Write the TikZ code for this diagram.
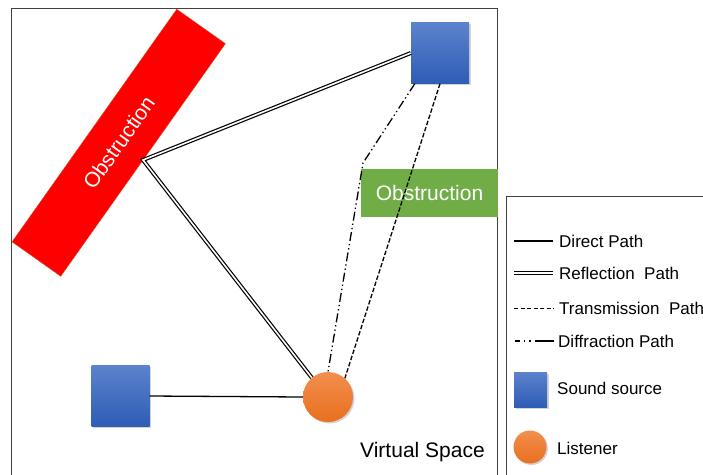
\documentclass[tikz,border=0pt]{standalone}
\usepackage{fontspec}
\setmainfont{Liberation Sans}
\usetikzlibrary{shadows}
\definecolor{srcTop}{HTML}{5B82CC}
\definecolor{srcBot}{HTML}{2E5DB5}
\definecolor{lisTop}{HTML}{F28E4E}
\definecolor{lisBot}{HTML}{E8701E}
\definecolor{obsGreen}{HTML}{70AD47}
\definecolor{obsRed}{HTML}{FF0000}
\definecolor{frameGray}{HTML}{404040}
\begin{document}
\begin{tikzpicture}[x=1pt,y=-1pt,
  source/.style={rectangle, minimum width=58pt, minimum height=61pt, inner sep=0pt,
    top color=srcTop, bottom color=srcBot, draw=none,
    drop shadow={shadow xshift=1.5pt, shadow yshift=-1.5pt, opacity=0.35}},
  legsource/.style={source, minimum width=33pt, minimum height=35pt},
  listener/.style={circle, minimum size=50pt, inner sep=0pt,
    top color=lisTop, bottom color=lisBot, draw=none,
    drop shadow={shadow xshift=1.5pt, shadow yshift=-1.5pt, opacity=0.35}},
  leglistener/.style={listener, minimum size=33pt},
  obstext/.style={text=white, font=\fontsize{21}{24}\selectfont, inner sep=0pt},
  direct/.style={line width=1.3pt, black},
  reflect/.style={double, double distance=1.6pt, line width=1.2pt, black},
  transmit/.style={dash pattern=on 4.5pt off 2pt, line width=1.3pt, black},
  diffract/.style={dash pattern=on 9pt off 3pt on 1.3pt off 3pt on 1.3pt off 3pt, line width=1.3pt, black},
  legdiffract/.style={dash pattern=on 5pt off 4pt on 1.3pt off 4pt on 1.3pt off 4pt on 19pt off 30pt, line width=1.2pt, black},
  legtransmit/.style={dash pattern=on 4pt off 2.5pt, line width=1pt, black},
  lbl/.style={font=\fontsize{17}{20}\selectfont, anchor=west, inner sep=0pt},
  framestyle/.style={draw=frameGray, line width=1pt}
]
\useasboundingbox (0,0) rectangle (703,474);

% main frame
\draw[framestyle] (11,490) -- (11,8) -- (497,8) -- (497,490);

% red obstruction
\node[obstext, rotate=54.7, minimum width=285pt, minimum height=59.6pt,
      fill=obsRed, draw=brown!60!red, line width=0.4pt] (redobs) at (118.75,142.75) {Obstruction};

% green obstruction
\node[obstext, minimum width=137pt, minimum height=48pt, fill=obsGreen] (greenobs) at (429.5,193) {Obstruction};

% sources and listener
\node[source] (srcA) at (440,53) {};
\node[source] (srcB) at (120.5,396) {};
\node[listener] (lis) at (328,397) {};

% paths
\coordinate (refl) at (143,160);
\coordinate (diffc) at (363,163);
\draw[direct] (srcB.east) -- (lis.west);
\draw[reflect] (srcA.west) -- (refl) -- (lis.130);
\draw[transmit] (srcA.south) -- (lis.48);
\draw[diffract] ([xshift=4pt]srcA.south west) -- (diffc) -- (lis.north);

\node[anchor=base west, inner sep=0pt, font=\fontsize{21}{24}\selectfont] (vs) at (360,457) {Virtual Space};

% legend
\draw[framestyle] (506,490) -- (506,196) -- (710,196);
\coordinate (l1a) at (514,241); \coordinate (l1b) at (553,241);
\coordinate (l2a) at (514,273); \coordinate (l2b) at (553,273);
\coordinate (l3a) at (514,308); \coordinate (l3b) at (554,308);
\coordinate (l4a) at (515,341); \coordinate (l4b) at (557,341);
\draw[direct] (l1a) -- (l1b);
\draw[reflect, double distance=1.4pt, line width=1.1pt] (l2a) -- (l2b);
\draw[legtransmit] (l3a) -- (l3b);
\draw[legdiffract] (l4a) -- (l4b);
\node[lbl] (t1) at (559,241) {Direct Path};
\node[lbl] (t2) at (559,273) {Reflection\ \ Path};
\node[lbl] (t3) at (559,308) {Transmission\ \ Path};
\node[lbl] (t4) at (558,341) {Diffraction Path};
\node[legsource] (lsrc) at (530.5,389.5) {};
\node[lbl] (t5) at (557,388) {Sound source};
\node[leglistener] (llis) at (530,447) {};
\node[lbl] (t6) at (557,448) {Listener};
\end{tikzpicture}
\end{document}
